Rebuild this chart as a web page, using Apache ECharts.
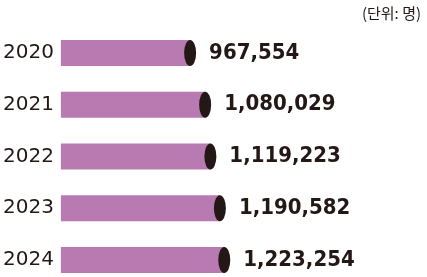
<!DOCTYPE html>
<html><head><meta charset="utf-8">
<script src="https://cdn.jsdelivr.net/npm/echarts@6/dist/echarts.min.js"></script>
<style>html,body{margin:0;padding:0;background:#fff}#c{width:427px;height:277px}</style>
</head><body><div id="c"></div>
<script>
const years = ['2020','2021','2022','2023','2024'];
const values = [967554, 1080029, 1119223, 1190582, 1223254];
const unitText = '(단위: 명)';

const chart = echarts.init(document.getElementById('c'), null, {renderer:'canvas'});
chart.setOption({
  animation:false,
  backgroundColor:'#ffffff',
  title:{text:unitText, right:1, top:1, textStyle:{fontFamily:'Noto Sans CJK KR', fontSize:15, fontWeight:'normal', color:'#231815'}},
  grid:{left:60, right:99, top:53, bottom:17},
  xAxis:{type:'value', min:0, max:2000000, show:false},
  yAxis:{type:'category', data:years, inverse:true, boundaryGap:false,
    axisLine:{show:false}, axisTick:{show:false}, splitLine:{show:false},
    axisLabel:{margin:7, fontFamily:'DejaVu Sans', fontSize:20, color:'#231815'}},
  series:[
    {type:'bar', data:values, barWidth:26, itemStyle:{color:'#b97ab1'}, z:2},
    {type:'scatter', data:values, symbol:'circle', symbolSize:[12,26], itemStyle:{color:'#231815', opacity:1}, z:3,
      label:{show:true, position:'right', distance:13, fontFamily:'DejaVu Sans Condensed', fontWeight:'bold', fontSize:22, color:'#231815',
        formatter:p=>Number(Array.isArray(p.value)?p.value[0]:p.value).toLocaleString('en-US')}}
  ]
});
</script></body></html>
